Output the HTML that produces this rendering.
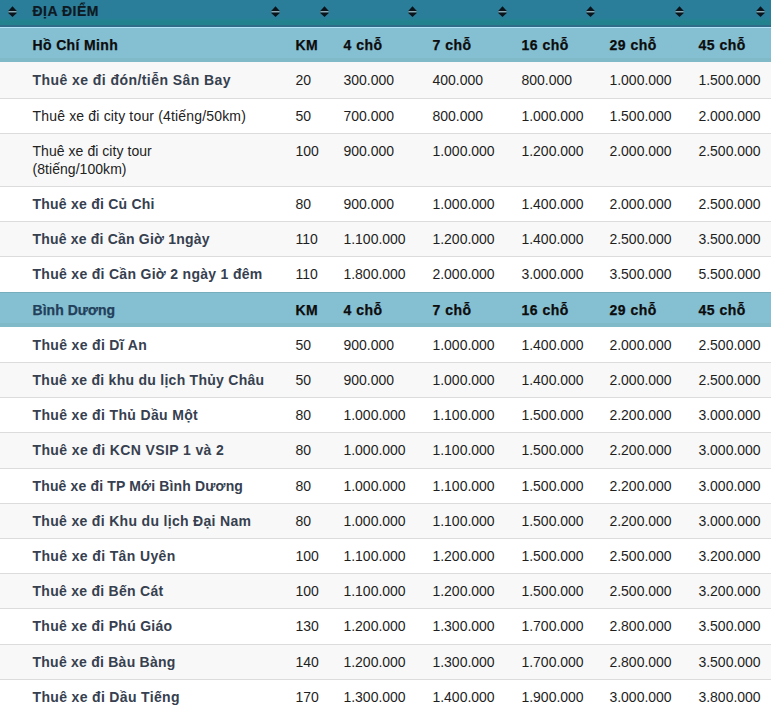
<!DOCTYPE html>
<html><head><meta charset="utf-8"><style>
html,body{margin:0;padding:0;background:#fff;width:772px;height:714px;overflow:hidden;}
body{font-family:"Liberation Sans",sans-serif;font-size:14px;position:relative;}
.r{position:absolute;left:0;width:771px;}
.hd{top:0;height:27px;background:linear-gradient(#2a7e9a 0,#2a7e9a 17px,#22838f 21px,#22838f 25px);}
.hd .bl{position:absolute;left:0;right:0;top:25px;height:2px;background:#306c88;}
.ic{position:absolute;top:6px;width:9px;height:12px;}
.sec{background:#85bfd2;}
.sec .bb{position:absolute;left:0;right:0;bottom:0;height:4px;background:#80b9c8;}
.g{background:#f8f8f8;}
.w{background:#fff;}
.bd{position:absolute;left:0;right:0;top:0;height:1px;background:#dcdcdc;}
.t{position:absolute;white-space:nowrap;line-height:18px;}
.b{font-weight:bold;letter-spacing:0.4px;}
.n{letter-spacing:-0.03px;color:#1e1e1e;}
.nm{color:#222;letter-spacing:0.12px;}
.nm.b{color:#36404f;letter-spacing:0.4px;}
.k{color:#0c0c0c;-webkit-text-stroke:0.25px #0c0c0c;}
.sn{color:#22405a;-webkit-text-stroke:0.25px #22405a;}
.hdt{color:#0e1922;-webkit-text-stroke:0.2px #0e1922;}
</style></head><body>

<div class="r hd"><div class="bl"></div>
<div class="t b hdt" style="left:32.5px;top:2px;font-size:14px;letter-spacing:0.5px">ĐỊA ĐIỂM</div>
<svg class="ic" style="left:8.3px" width="9.2" height="12" viewBox="0 0 9.2 12"><path d="M4.6 0.1L9 4.9Q9.2 5.2 8.8 5.2H0.4Q0 5.2 0.2 4.9Z" fill="#0c141b"/><rect x="0.5" y="5.2" width="8.2" height="1.4" fill="#a9bcc2"/><path d="M0.4 6.6H8.8Q9.2 6.6 9 6.9L4.6 11.1L0.2 6.9Q0 6.6 0.4 6.6Z" fill="#0c141b"/></svg>
<svg class="ic" style="left:271.4px" width="9.2" height="12" viewBox="0 0 9.2 12"><path d="M4.6 0.1L9 4.9Q9.2 5.2 8.8 5.2H0.4Q0 5.2 0.2 4.9Z" fill="#0c141b"/><rect x="0.5" y="5.2" width="8.2" height="1.4" fill="#a9bcc2"/><path d="M0.4 6.6H8.8Q9.2 6.6 9 6.9L4.6 11.1L0.2 6.9Q0 6.6 0.4 6.6Z" fill="#0c141b"/></svg>
<svg class="ic" style="left:319.7px" width="9.2" height="12" viewBox="0 0 9.2 12"><path d="M4.6 0.1L9 4.9Q9.2 5.2 8.8 5.2H0.4Q0 5.2 0.2 4.9Z" fill="#0c141b"/><rect x="0.5" y="5.2" width="8.2" height="1.4" fill="#a9bcc2"/><path d="M0.4 6.6H8.8Q9.2 6.6 9 6.9L4.6 11.1L0.2 6.9Q0 6.6 0.4 6.6Z" fill="#0c141b"/></svg>
<svg class="ic" style="left:408.4px" width="9.2" height="12" viewBox="0 0 9.2 12"><path d="M4.6 0.1L9 4.9Q9.2 5.2 8.8 5.2H0.4Q0 5.2 0.2 4.9Z" fill="#0c141b"/><rect x="0.5" y="5.2" width="8.2" height="1.4" fill="#a9bcc2"/><path d="M0.4 6.6H8.8Q9.2 6.6 9 6.9L4.6 11.1L0.2 6.9Q0 6.6 0.4 6.6Z" fill="#0c141b"/></svg>
<svg class="ic" style="left:497.59999999999997px" width="9.2" height="12" viewBox="0 0 9.2 12"><path d="M4.6 0.1L9 4.9Q9.2 5.2 8.8 5.2H0.4Q0 5.2 0.2 4.9Z" fill="#0c141b"/><rect x="0.5" y="5.2" width="8.2" height="1.4" fill="#a9bcc2"/><path d="M0.4 6.6H8.8Q9.2 6.6 9 6.9L4.6 11.1L0.2 6.9Q0 6.6 0.4 6.6Z" fill="#0c141b"/></svg>
<svg class="ic" style="left:586.4px" width="9.2" height="12" viewBox="0 0 9.2 12"><path d="M4.6 0.1L9 4.9Q9.2 5.2 8.8 5.2H0.4Q0 5.2 0.2 4.9Z" fill="#0c141b"/><rect x="0.5" y="5.2" width="8.2" height="1.4" fill="#a9bcc2"/><path d="M0.4 6.6H8.8Q9.2 6.6 9 6.9L4.6 11.1L0.2 6.9Q0 6.6 0.4 6.6Z" fill="#0c141b"/></svg>
<svg class="ic" style="left:675.0px" width="9.2" height="12" viewBox="0 0 9.2 12"><path d="M4.6 0.1L9 4.9Q9.2 5.2 8.8 5.2H0.4Q0 5.2 0.2 4.9Z" fill="#0c141b"/><rect x="0.5" y="5.2" width="8.2" height="1.4" fill="#a9bcc2"/><path d="M0.4 6.6H8.8Q9.2 6.6 9 6.9L4.6 11.1L0.2 6.9Q0 6.6 0.4 6.6Z" fill="#0c141b"/></svg>
<svg class="ic" style="left:755.6999999999999px" width="9.2" height="12" viewBox="0 0 9.2 12"><path d="M4.6 0.1L9 4.9Q9.2 5.2 8.8 5.2H0.4Q0 5.2 0.2 4.9Z" fill="#0c141b"/><rect x="0.5" y="5.2" width="8.2" height="1.4" fill="#a9bcc2"/><path d="M0.4 6.6H8.8Q9.2 6.6 9 6.9L4.6 11.1L0.2 6.9Q0 6.6 0.4 6.6Z" fill="#0c141b"/></svg>
</div>
<div class="r sec" style="top:27px;height:35px"><div class="bd" style="background:#b3e3f6"></div><div class="bb"></div>
<div class="t b k" style="left:32.5px;top:9px;letter-spacing:0.36px">Hồ Chí Minh</div>
<div class="t b k" style="left:295.5px;top:9px;letter-spacing:0.3px">KM</div>
<div class="t b k" style="left:343.5px;top:9px;letter-spacing:0.5px">4 chỗ</div>
<div class="t b k" style="left:432.5px;top:9px;letter-spacing:0.5px">7 chỗ</div>
<div class="t b k" style="left:521.5px;top:9px;letter-spacing:0.5px">16 chỗ</div>
<div class="t b k" style="left:609.5px;top:9px;letter-spacing:0.5px">29 chỗ</div>
<div class="t b k" style="left:698.5px;top:9px;letter-spacing:0.5px">45 chỗ</div>
</div>
<div class="r g" style="top:62px;height:36px">
<div class="t nm b" style="left:32.5px;top:9px;letter-spacing:0.44px">Thuê xe đi đón/tiễn Sân Bay</div>
<div class="t n" style="left:295.5px;top:9px;">20</div>
<div class="t n" style="left:343.5px;top:9px;">300.000</div>
<div class="t n" style="left:432.5px;top:9px;">400.000</div>
<div class="t n" style="left:521.5px;top:9px;">800.000</div>
<div class="t n" style="left:609.5px;top:9px;">1.000.000</div>
<div class="t n" style="left:698.5px;top:9px;">1.500.000</div>
</div>
<div class="r w" style="top:98px;height:35px">
<div class="bd"></div>
<div class="t nm" style="left:32.5px;top:9px;letter-spacing:0.17px">Thuê xe đi city tour (4tiếng/50km)</div>
<div class="t n" style="left:295.5px;top:9px;">50</div>
<div class="t n" style="left:343.5px;top:9px;">700.000</div>
<div class="t n" style="left:432.5px;top:9px;">800.000</div>
<div class="t n" style="left:521.5px;top:9px;">1.000.000</div>
<div class="t n" style="left:609.5px;top:9px;">1.500.000</div>
<div class="t n" style="left:698.5px;top:9px;">2.000.000</div>
</div>
<div class="r g" style="top:133px;height:53px">
<div class="bd"></div>
<div class="t nm" style="left:32.5px;top:9px;letter-spacing:0.05px">Thuê xe đi city tour<br>(8tiếng/100km)</div>
<div class="t n" style="left:295.5px;top:9px;">100</div>
<div class="t n" style="left:343.5px;top:9px;">900.000</div>
<div class="t n" style="left:432.5px;top:9px;">1.000.000</div>
<div class="t n" style="left:521.5px;top:9px;">1.200.000</div>
<div class="t n" style="left:609.5px;top:9px;">2.000.000</div>
<div class="t n" style="left:698.5px;top:9px;">2.500.000</div>
</div>
<div class="r w" style="top:186px;height:35px">
<div class="bd"></div>
<div class="t nm b" style="left:32.5px;top:9px;letter-spacing:0.23px">Thuê xe đi Củ Chi</div>
<div class="t n" style="left:295.5px;top:9px;">80</div>
<div class="t n" style="left:343.5px;top:9px;">900.000</div>
<div class="t n" style="left:432.5px;top:9px;">1.000.000</div>
<div class="t n" style="left:521.5px;top:9px;">1.400.000</div>
<div class="t n" style="left:609.5px;top:9px;">2.000.000</div>
<div class="t n" style="left:698.5px;top:9px;">2.500.000</div>
</div>
<div class="r g" style="top:221px;height:35px">
<div class="bd"></div>
<div class="t nm b" style="left:32.5px;top:9px;letter-spacing:0.19px">Thuê xe đi Cần Giờ 1ngày</div>
<div class="t n" style="left:295.5px;top:9px;">110</div>
<div class="t n" style="left:343.5px;top:9px;">1.100.000</div>
<div class="t n" style="left:432.5px;top:9px;">1.200.000</div>
<div class="t n" style="left:521.5px;top:9px;">1.400.000</div>
<div class="t n" style="left:609.5px;top:9px;">2.500.000</div>
<div class="t n" style="left:698.5px;top:9px;">3.500.000</div>
</div>
<div class="r w" style="top:256px;height:36px">
<div class="bd"></div>
<div class="t nm b" style="left:32.5px;top:9px;letter-spacing:0.3px">Thuê xe đi Cần Giờ 2 ngày 1 đêm</div>
<div class="t n" style="left:295.5px;top:9px;">110</div>
<div class="t n" style="left:343.5px;top:9px;">1.800.000</div>
<div class="t n" style="left:432.5px;top:9px;">2.000.000</div>
<div class="t n" style="left:521.5px;top:9px;">3.000.000</div>
<div class="t n" style="left:609.5px;top:9px;">3.500.000</div>
<div class="t n" style="left:698.5px;top:9px;">5.500.000</div>
</div>
<div class="r sec" style="top:292px;height:35px"><div class="bd" style="background:#78adbe"></div><div class="bb"></div>
<div class="t b sn" style="left:32.5px;top:9px;letter-spacing:0.03px">Bình Dương</div>
<div class="t b k" style="left:295.5px;top:9px;letter-spacing:0.3px">KM</div>
<div class="t b k" style="left:343.5px;top:9px;letter-spacing:0.5px">4 chỗ</div>
<div class="t b k" style="left:432.5px;top:9px;letter-spacing:0.5px">7 chỗ</div>
<div class="t b k" style="left:521.5px;top:9px;letter-spacing:0.5px">16 chỗ</div>
<div class="t b k" style="left:609.5px;top:9px;letter-spacing:0.5px">29 chỗ</div>
<div class="t b k" style="left:698.5px;top:9px;letter-spacing:0.5px">45 chỗ</div>
</div>
<div class="r w" style="top:327px;height:35px">
<div class="t nm b" style="left:32.5px;top:9px;letter-spacing:0.34px">Thuê xe đi Dĩ An</div>
<div class="t n" style="left:295.5px;top:9px;">50</div>
<div class="t n" style="left:343.5px;top:9px;">900.000</div>
<div class="t n" style="left:432.5px;top:9px;">1.000.000</div>
<div class="t n" style="left:521.5px;top:9px;">1.400.000</div>
<div class="t n" style="left:609.5px;top:9px;">2.000.000</div>
<div class="t n" style="left:698.5px;top:9px;">2.500.000</div>
</div>
<div class="r g" style="top:362px;height:35px">
<div class="bd"></div>
<div class="t nm b" style="left:32.5px;top:9px;letter-spacing:0.27px">Thuê xe đi khu du lịch Thủy Châu</div>
<div class="t n" style="left:295.5px;top:9px;">50</div>
<div class="t n" style="left:343.5px;top:9px;">900.000</div>
<div class="t n" style="left:432.5px;top:9px;">1.000.000</div>
<div class="t n" style="left:521.5px;top:9px;">1.400.000</div>
<div class="t n" style="left:609.5px;top:9px;">2.000.000</div>
<div class="t n" style="left:698.5px;top:9px;">2.500.000</div>
</div>
<div class="r w" style="top:397px;height:35px">
<div class="bd"></div>
<div class="t nm b" style="left:32.5px;top:9px;letter-spacing:0.35px">Thuê xe đi Thủ Dầu Một</div>
<div class="t n" style="left:295.5px;top:9px;">80</div>
<div class="t n" style="left:343.5px;top:9px;">1.000.000</div>
<div class="t n" style="left:432.5px;top:9px;">1.100.000</div>
<div class="t n" style="left:521.5px;top:9px;">1.500.000</div>
<div class="t n" style="left:609.5px;top:9px;">2.200.000</div>
<div class="t n" style="left:698.5px;top:9px;">3.000.000</div>
</div>
<div class="r g" style="top:432px;height:36px">
<div class="bd"></div>
<div class="t nm b" style="left:32.5px;top:9px;letter-spacing:0.38px">Thuê xe đi KCN VSIP 1 và 2</div>
<div class="t n" style="left:295.5px;top:9px;">80</div>
<div class="t n" style="left:343.5px;top:9px;">1.000.000</div>
<div class="t n" style="left:432.5px;top:9px;">1.100.000</div>
<div class="t n" style="left:521.5px;top:9px;">1.500.000</div>
<div class="t n" style="left:609.5px;top:9px;">2.200.000</div>
<div class="t n" style="left:698.5px;top:9px;">3.000.000</div>
</div>
<div class="r w" style="top:468px;height:35px">
<div class="bd"></div>
<div class="t nm b" style="left:32.5px;top:9px;letter-spacing:0.15px">Thuê xe đi TP Mới Bình Dương</div>
<div class="t n" style="left:295.5px;top:9px;">80</div>
<div class="t n" style="left:343.5px;top:9px;">1.000.000</div>
<div class="t n" style="left:432.5px;top:9px;">1.100.000</div>
<div class="t n" style="left:521.5px;top:9px;">1.500.000</div>
<div class="t n" style="left:609.5px;top:9px;">2.200.000</div>
<div class="t n" style="left:698.5px;top:9px;">3.000.000</div>
</div>
<div class="r g" style="top:503px;height:35px">
<div class="bd"></div>
<div class="t nm b" style="left:32.5px;top:9px;letter-spacing:0.32px">Thuê xe đi Khu du lịch Đại Nam</div>
<div class="t n" style="left:295.5px;top:9px;">80</div>
<div class="t n" style="left:343.5px;top:9px;">1.000.000</div>
<div class="t n" style="left:432.5px;top:9px;">1.100.000</div>
<div class="t n" style="left:521.5px;top:9px;">1.500.000</div>
<div class="t n" style="left:609.5px;top:9px;">2.200.000</div>
<div class="t n" style="left:698.5px;top:9px;">3.000.000</div>
</div>
<div class="r w" style="top:538px;height:35px">
<div class="bd"></div>
<div class="t nm b" style="left:32.5px;top:9px;letter-spacing:0.37px">Thuê xe đi Tân Uyên</div>
<div class="t n" style="left:295.5px;top:9px;">100</div>
<div class="t n" style="left:343.5px;top:9px;">1.100.000</div>
<div class="t n" style="left:432.5px;top:9px;">1.200.000</div>
<div class="t n" style="left:521.5px;top:9px;">1.500.000</div>
<div class="t n" style="left:609.5px;top:9px;">2.500.000</div>
<div class="t n" style="left:698.5px;top:9px;">3.200.000</div>
</div>
<div class="r g" style="top:573px;height:35px">
<div class="bd"></div>
<div class="t nm b" style="left:32.5px;top:9px;letter-spacing:0.27px">Thuê xe đi Bến Cát</div>
<div class="t n" style="left:295.5px;top:9px;">100</div>
<div class="t n" style="left:343.5px;top:9px;">1.100.000</div>
<div class="t n" style="left:432.5px;top:9px;">1.200.000</div>
<div class="t n" style="left:521.5px;top:9px;">1.500.000</div>
<div class="t n" style="left:609.5px;top:9px;">2.500.000</div>
<div class="t n" style="left:698.5px;top:9px;">3.200.000</div>
</div>
<div class="r w" style="top:608px;height:36px">
<div class="bd"></div>
<div class="t nm b" style="left:32.5px;top:9px;letter-spacing:0.28px">Thuê xe đi Phú Giáo</div>
<div class="t n" style="left:295.5px;top:9px;">130</div>
<div class="t n" style="left:343.5px;top:9px;">1.200.000</div>
<div class="t n" style="left:432.5px;top:9px;">1.300.000</div>
<div class="t n" style="left:521.5px;top:9px;">1.700.000</div>
<div class="t n" style="left:609.5px;top:9px;">2.800.000</div>
<div class="t n" style="left:698.5px;top:9px;">3.500.000</div>
</div>
<div class="r g" style="top:644px;height:35px">
<div class="bd"></div>
<div class="t nm b" style="left:32.5px;top:9px;letter-spacing:0.24px">Thuê xe đi Bàu Bàng</div>
<div class="t n" style="left:295.5px;top:9px;">140</div>
<div class="t n" style="left:343.5px;top:9px;">1.200.000</div>
<div class="t n" style="left:432.5px;top:9px;">1.300.000</div>
<div class="t n" style="left:521.5px;top:9px;">1.700.000</div>
<div class="t n" style="left:609.5px;top:9px;">2.800.000</div>
<div class="t n" style="left:698.5px;top:9px;">3.500.000</div>
</div>
<div class="r w" style="top:679px;height:35px">
<div class="bd"></div>
<div class="t nm b" style="left:32.5px;top:9px;letter-spacing:0.34px">Thuê xe đi Dầu Tiếng</div>
<div class="t n" style="left:295.5px;top:9px;">170</div>
<div class="t n" style="left:343.5px;top:9px;">1.300.000</div>
<div class="t n" style="left:432.5px;top:9px;">1.400.000</div>
<div class="t n" style="left:521.5px;top:9px;">1.900.000</div>
<div class="t n" style="left:609.5px;top:9px;">3.000.000</div>
<div class="t n" style="left:698.5px;top:9px;">3.800.000</div>
</div>
</body></html>
